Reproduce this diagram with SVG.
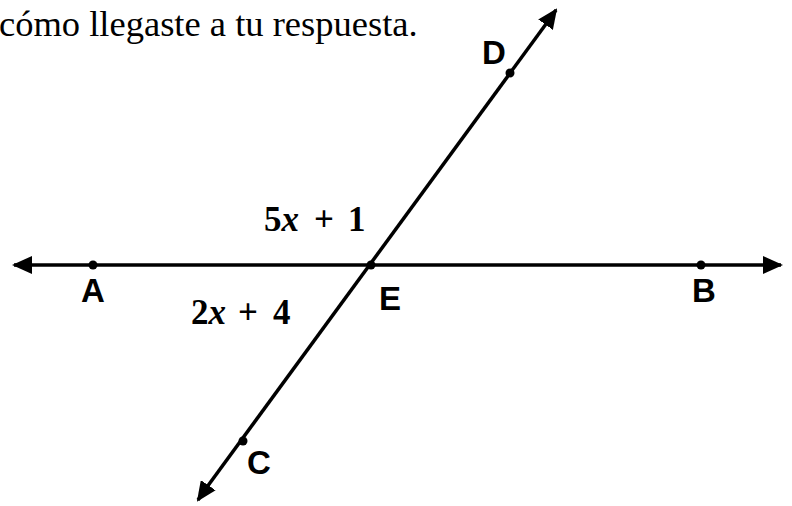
<svg xmlns="http://www.w3.org/2000/svg" width="792" height="506" viewBox="0 0 792 506">
<style>
.ln{stroke:#000;stroke-width:3.5;fill:none}
.pt{fill:#000}
.lbl{font-family:"Liberation Sans",Arial,sans-serif;font-weight:bold;font-size:33px;fill:#000}
.ang{font-family:"Liberation Serif","Times New Roman",serif;font-weight:bold;font-size:35px;fill:#000}
.txt{font-family:"Liberation Serif","Times New Roman",serif;font-size:36.5px;fill:#000}
</style>
<defs>
<marker id="ah" viewBox="0 0 10 10" refX="9" refY="5" markerWidth="20" markerHeight="18" markerUnits="userSpaceOnUse" orient="auto" preserveAspectRatio="none">
<path d="M0,0 L10,5 L0,10 Z" fill="#000"/>
</marker>
</defs>
<text class="txt" x="-1" y="36">cómo llegaste a tu respuesta.</text>
<g id="connectors">
<line class="ln" x1="30" y1="265" x2="14" y2="265" marker-end="url(#ah)"/>
<line class="ln" x1="30" y1="265" x2="764" y2="265"/>
<line class="ln" x1="764" y1="265" x2="781" y2="265" marker-end="url(#ah)"/>
<line class="ln" x1="207" y1="487" x2="546" y2="24"/>
<line class="ln" x1="546" y1="24" x2="556" y2="10" marker-end="url(#ah)"/>
<line class="ln" x1="207" y1="487" x2="198" y2="500" marker-end="url(#ah)"/>
</g>
<g id="A"><circle class="pt" cx="93" cy="265" r="4.5"/><text class="lbl" x="93" y="302" text-anchor="middle">A</text></g>
<g id="E"><circle class="pt" cx="371" cy="265" r="4.5"/><text class="lbl" x="390" y="310" text-anchor="middle">E</text></g>
<g id="B"><circle class="pt" cx="701" cy="265" r="4.5"/><text class="lbl" x="704" y="302" text-anchor="middle">B</text></g>
<g id="D"><circle class="pt" cx="510" cy="73" r="4.5"/><text class="lbl" x="494" y="64" text-anchor="middle">D</text></g>
<g id="C"><circle class="pt" cx="243" cy="441" r="4.5"/><text class="lbl" x="259" y="474" text-anchor="middle">C</text></g>
<g id="angle1"><text class="ang" y="231"><tspan x="264">5</tspan><tspan font-style="italic">x</tspan><tspan x="314">+</tspan><tspan x="348">1</tspan></text></g>
<g id="angle2"><text class="ang" y="324"><tspan x="191">2</tspan><tspan font-style="italic">x</tspan><tspan x="238">+</tspan><tspan x="273">4</tspan></text></g>
</svg>
